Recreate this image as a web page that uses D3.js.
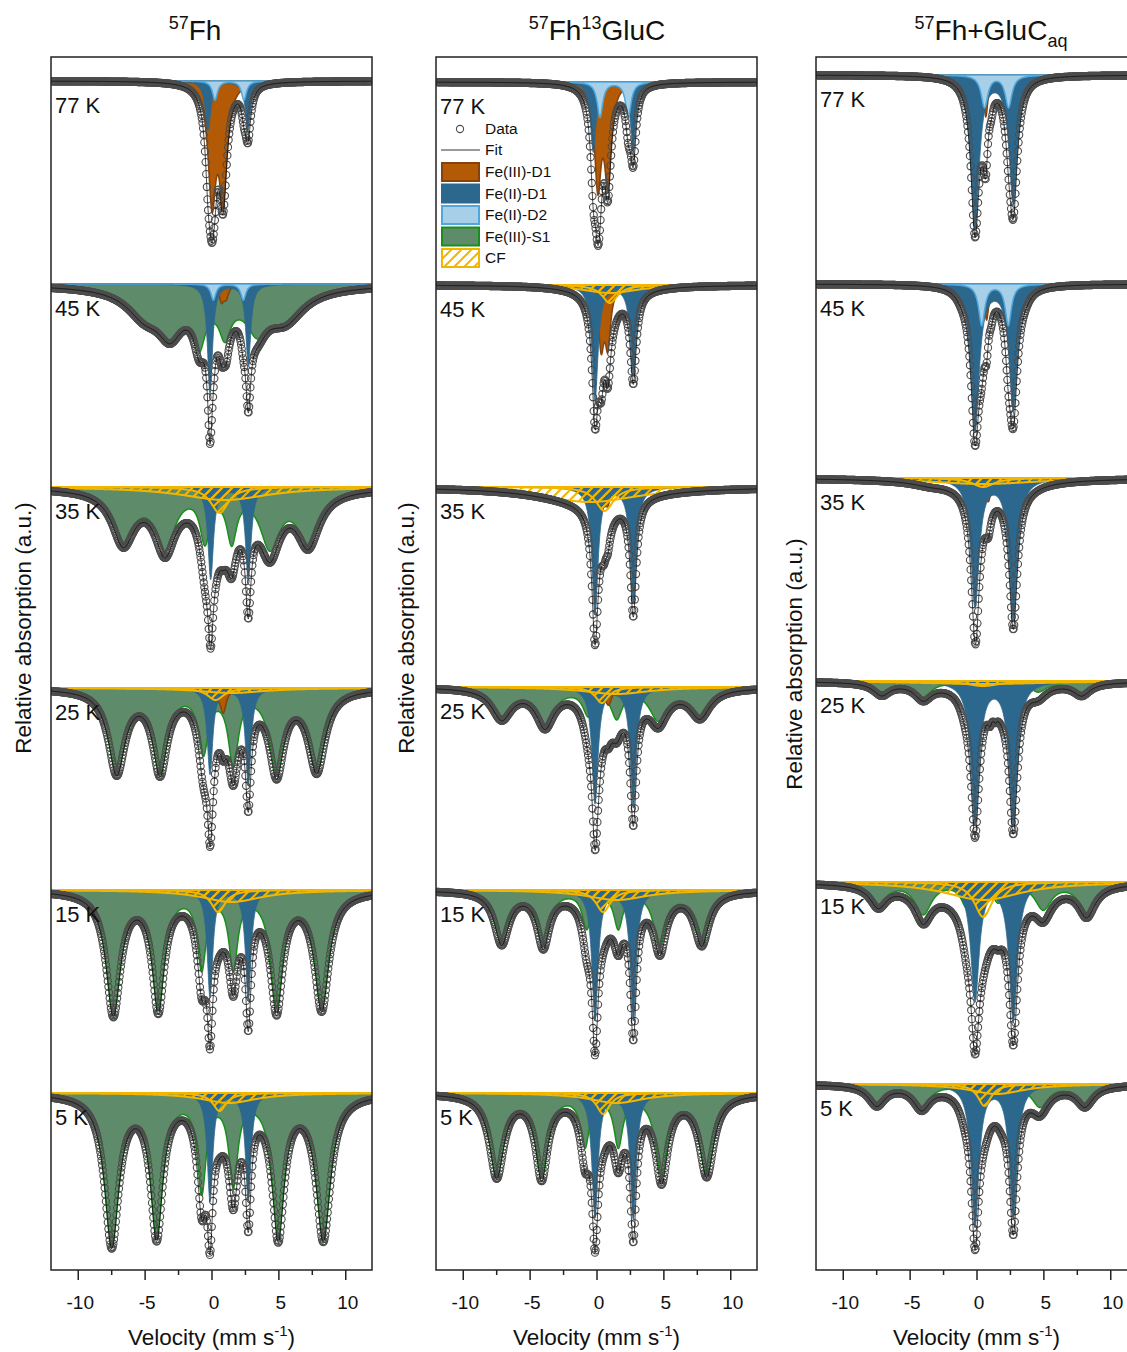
<!DOCTYPE html>
<html>
<head>
<meta charset="utf-8">
<script src="https://cdn.jsdelivr.net/npm/d3@7"></script>
<style>
  body { margin: 0; background: #fff; }
  text { font-family: "Liberation Sans", Arial, sans-serif; fill: #111; }
</style>
</head>
<body>
<div class="canvas"></div>
<script>
// Spectra, top to bottom
const temps = ['77 K', '45 K', '35 K', '25 K', '15 K', '5 K'];
const legendNames = ['Fe(III)-D1', 'Fe(II)-D1', 'Fe(II)-D2', 'Fe(III)-S1', 'CF'];
const xTicks = [-10, -5, 0, 5, 10];
const xMinorTicks = [-7.5, -2.5, 2.5, 7.5];

// Each fitted line: [centre velocity (mm/s), depth (a.u.), FWHM (mm/s)], one entry per temperature
// 57Fh
const fhFe3D1 = [
    [[0.04, 11.5, 0.7], [0.87, 11.0, 0.7]],
    [[0.75, 1.6, 0.45], [1.1, 1.2, 0.45]],
    [[0.3, 0.9, 0.6], [0.9, 0.9, 0.6]],
    [[0.0, 2.4, 0.55], [0.88, 2.3, 0.55]],
    null, null];
const fhFe2D1 = [
    [[-0.26, 4.9, 0.5], [2.73, 4.9, 0.5]],
    [[-0.11, 11.0, 0.45], [2.75, 8.0, 0.45]],
    [[-0.06, 9.2, 0.5], [2.75, 9.3, 0.5]],
    [[-0.11, 8.6, 0.5], [2.75, 9.7, 0.5]],
    [[-0.11, 10.7, 0.5], [2.75, 11.0, 0.5]],
    [[-0.11, 10.8, 0.5], [2.75, 10.8, 0.5]]];
const fhFe2D2 = [
    [[0.26, 1.9, 0.45], [2.43, 1.9, 0.45]],
    [[0.14, 1.6, 0.45], [2.38, 1.6, 0.45]],
    null, null, null, null];
const fhFe3S1 = [
    null,
    [[-5.0, 2.4, 3.2], [-3.1, 3.6, 2.2], [-0.9, 4.0, 1.0], [1.0, 3.2, 1.0], [3.4, 3.1, 1.8], [5.5, 3.0, 3.4], [0.0, 1.3, 9]],
    [[-6.6, 5.2, 2.0], [-3.48, 5.6, 1.8], [-0.49, 4.8, 0.9], [1.51, 4.8, 0.9], [4.37, 5.6, 1.8], [7.24, 5.2, 2.0]],
    [[-7.09, 8.3, 1.5], [-3.85, 8.0, 1.3], [-0.61, 6.0, 0.9], [1.63, 7.2, 0.9], [4.87, 8.0, 1.3], [7.87, 8.0, 1.5]],
    [[-7.34, 12.2, 1.3], [-3.98, 11.4, 1.1], [-0.73, 7.4, 0.8], [1.63, 7.4, 0.8], [4.87, 11.2, 1.1], [8.24, 11.6, 1.3]],
    [[-7.46, 15.0, 1.3], [-4.10, 13.8, 1.1], [-0.73, 9.3, 0.8], [1.63, 8.6, 0.8], [4.99, 13.7, 1.1], [8.36, 14.3, 1.3]]];
const fhCF = [
    null, null,
    [[0.6, 2.6, 1.6], [1.0, 1.3, 8]],
    [[0.3, 1.2, 1.5], [1.5, 0.5, 6]],
    [[0.5, 2.2, 1.3], [1.5, 1.2, 5.5]],
    [[0.6, 1.8, 1.2], [1.3, 1.0, 5]]];

// 57Fh13GluC
const gcFe3D1 = [
    [[0.1, 10.0, 0.6], [0.85, 9.5, 0.6]],
    [[0.35, 5.8, 0.5], [0.85, 5.6, 0.5]],
    [[0.55, 1.5, 0.4], [0.85, 1.5, 0.4]],
    [[0.1, 1.8, 0.6], [0.9, 1.6, 0.6]],
    null, null];
const gcFe2D1 = [
    [[-0.24, 7.0, 0.5], [2.75, 7.0, 0.5]],
    [[-0.11, 11.5, 0.55], [2.75, 8.9, 0.55]],
    [[-0.11, 12.7, 0.55], [2.75, 11.6, 0.55]],
    [[-0.11, 11.6, 0.55], [2.75, 12.0, 0.55]],
    [[-0.11, 13.0, 0.55], [2.75, 13.0, 0.55]],
    [[-0.11, 12.4, 0.55], [2.75, 12.6, 0.55]]];
const gcFe2D2 = [
    [[0.26, 3.5, 0.5], [2.38, 3.5, 0.5]],
    null, null, null, null, null];
const gcFe3S1 = [
    null, null, null,
    [[-7.09, 3.0, 1.8], [-3.85, 3.6, 1.6], [-0.61, 2.5, 1.0], [1.51, 2.8, 1.0], [4.62, 3.1, 1.6], [7.74, 2.8, 1.8]],
    [[-7.09, 5.2, 1.3], [-3.98, 5.3, 1.1], [-0.73, 3.6, 0.8], [1.63, 3.6, 0.8], [4.74, 5.5, 1.1], [7.87, 5.2, 1.3]],
    [[-7.46, 8.2, 1.3], [-4.10, 8.1, 1.1], [-0.86, 5.0, 0.8], [1.63, 5.0, 0.8], [4.87, 8.1, 1.1], [8.24, 8.0, 1.3]]];
const gcCF = [
    null,
    [[1.0, 1.8, 1.4], [1.0, 0.8, 5]],
    [[0.6, 2.4, 1.6], [-0.5, 1.5, 9]],
    [[0.4, 1.6, 1.2], [1.5, 0.7, 6]],
    [[0.5, 2.2, 1.3], [1.5, 1.0, 5.5]],
    [[0.5, 2.1, 1.2], [1.5, 1.0, 5]]];

// 57Fh+GluCaq
const aqFe3D1 = [
    [[0.7, 4.0, 0.35], [1.1, 1.0, 0.35]],
    [[0.75, 3.4, 0.35], [1.1, 1.0, 0.35]],
    [[0.0, 2.4, 0.5], [0.88, 2.2, 0.5]],
    [[1.0, 1.2, 0.4], [1.4, 0.8, 0.4]],
    null, null];
const aqFe2D1 = [
    [[-0.11, 15.3, 0.75], [2.75, 12.7, 0.75]],
    [[-0.11, 14.7, 0.75], [2.75, 12.5, 0.75]],
    [[-0.11, 12.8, 0.75], [2.75, 14.0, 0.75]],
    [[-0.11, 14.2, 0.75], [2.75, 14.2, 0.75]],
    [[-0.11, 11.8, 0.75], [2.75, 13.8, 0.75]],
    [[-0.11, 14.2, 0.7], [2.75, 13.3, 0.7]]];
const aqFe2D2 = [
    [[0.6, 3.2, 0.6], [2.4, 3.2, 0.6]],
    [[0.39, 4.1, 0.55], [2.38, 4.1, 0.55]],
    null, null, null, null];
const aqFe3S1 = [
    null,
    [[-1.1, 0.5, 1.0], [3.6, 0.5, 1.0]],
    [[-3.5, 0.3, 3], [3.7, 0.3, 3]],
    [[-7.09, 1.2, 1.5], [-3.98, 1.5, 1.5], [-0.86, 1.0, 1.0], [1.88, 1.0, 1.0], [4.62, 1.0, 1.5], [7.87, 1.2, 1.5]],
    [[-7.34, 2.1, 1.5], [-3.98, 3.1, 1.5], [-0.73, 2.3, 1.0], [1.63, 1.8, 1.0], [4.99, 2.6, 1.5], [8.24, 3.0, 1.5]],
    [[-7.46, 2.0, 1.5], [-4.10, 2.2, 1.5], [-0.86, 1.2, 1.0], [1.88, 1.2, 1.0], [4.75, 2.2, 1.5], [8.11, 2.0, 1.5]]];
const aqCF = [
    null, null,
    [[0.5, 0.9, 2], [0.5, 0.6, 10]],
    [[0.5, 0.5, 3], [0.5, 0.3, 12]],
    [[0.5, 3.5, 1.6], [0.5, 1.8, 7]],
    [[0.6, 2.2, 1.2], [1.5, 1.0, 5]]];

const panels = [
    {title: [['57', 'sup'], ['Fh', '']],
     comps: {fe3s1: fhFe3S1, fe3d1: fhFe3D1, fe2d1: fhFe2D1, fe2d2: fhFe2D2, cf: fhCF}},
    {title: [['57', 'sup'], ['Fh', ''], ['13', 'sup'], ['GluC', '']],
     comps: {fe3s1: gcFe3S1, fe3d1: gcFe3D1, fe2d1: gcFe2D1, fe2d2: gcFe2D2, cf: gcCF}},
    {title: [['57', 'sup'], ['Fh+GluC', ''], ['aq', 'sub']],
     comps: {fe3s1: aqFe3S1, fe3d1: aqFe3D1, fe2d1: aqFe2D1, fe2d2: aqFe2D2, cf: aqCF}}
];

// Layout
const outerWidth = 1127;
const outerHeight = 1352;
const panelLeft = [51, 436, 816];
const panelWidth = 321;
const plotTop = 57;
const plotBottom = 1270;
// vertical offset of each spectrum baseline (a.u.)
const offsets = [
    [2.4, 22.7, 43.0, 63.1, 83.3, 103.6],
    [2.5, 22.8, 43.0, 63.0, 83.3, 103.6],
    [1.8, 22.7, 42.1, 62.4, 82.5, 102.7]];
const titleX = [195, 597, 991];
const yLabelX = [23, 406, 794];
const yLabelY = [628, 628, 664];

const colors = {
    fe3d1: {fill: '#b25a05', stroke: '#86420a'},
    fe2d1: {fill: '#2c688d', stroke: '#2c688d'},
    fe2d2: {fill: '#a7d0e8', stroke: '#4ea8de'},
    fe3s1: {fill: '#5e8b69', stroke: '#17901a'},
    cf: {fill: 'url(#hatch)', stroke: '#f2b600'}
};
const drawOrder = ['fe3s1', 'fe3d1', 'fe2d1', 'fe2d2'];
const legendKeys = ['fe3d1', 'fe2d1', 'fe2d2', 'fe3s1', 'cf'];

// Lorentzian line shape
const lor = (v, [c, d, w]) => d / (1 + Math.pow((v - c) / (w / 2), 2));
const sumLines = (v, lines) => lines ? d3.sum(lines, l => lor(v, l)) : 0;

const vGrid = d3.range(-12, 12.0001, 0.02);
const channels = d3.range(512).map(i => -11.9 + i * 23.8 / 511);

const svg = d3.select('.canvas')
    .append('svg')
    .attr('width', outerWidth)
    .attr('height', outerHeight);

const defs = svg.append('defs');
defs.append('pattern')
    .attr('id', 'hatch')
    .attr('patternUnits', 'userSpaceOnUse')
    .attr('width', 10)
    .attr('height', 10)
    .append('path')
    .attr('d', 'M-2,2 L2,-2 M0,10 L10,0 M8,12 L12,8')
    .attr('stroke', colors.cf.stroke)
    .attr('stroke-width', 2);

const y = d3.scaleLinear().domain([0, 121.3]).range([plotTop, plotBottom]);

panels.forEach((panel, p) => {
    const left = panelLeft[p];
    const x = d3.scaleLinear().domain([-12, 12]).range([left, left + panelWidth]);
    const g = svg.append('g');

    defs.append('clipPath').attr('id', `clip${p}`)
        .append('rect')
        .attr('x', left).attr('y', plotTop)
        .attr('width', panelWidth).attr('height', plotBottom - plotTop);

    const plot = g.append('g').attr('clip-path', `url(#clip${p})`);

    temps.forEach((t, i) => {
        const o = offsets[p][i];
        const area = f => d3.area()
            .x(v => x(v))
            .y0(y(o))
            .y1(v => y(o + f(v)));

        // components, each hanging from the baseline
        drawOrder.forEach(k => {
            const lines = panel.comps[k][i];
            if (!lines) return;
            plot.append('path')
                .datum(vGrid)
                .attr('d', area(v => sumLines(v, lines)))
                .attr('fill', colors[k].fill)
                .attr('stroke', colors[k].stroke)
                .attr('stroke-width', k === 'fe2d1' ? 0.8 : 1.5);
        });

        const cf = panel.comps.cf[i];
        if (cf) {
            cf.forEach(l => {
                plot.append('path')
                    .datum(vGrid)
                    .attr('d', area(v => lor(v, l)))
                    .attr('fill', colors.cf.fill)
                    .attr('stroke', colors.cf.stroke)
                    .attr('stroke-width', 2);
            });
        }

        const allLines = Object.keys(panel.comps)
            .flatMap(k => panel.comps[k][i] || []);
        const total = v => sumLines(v, allLines);

        // data points
        plot.append('g')
            .selectAll('circle')
            .data(channels)
            .join('circle')
            .attr('cx', v => x(v))
            .attr('cy', v => y(o + total(v)))
            .attr('r', 3.6)
            .attr('fill', 'none')
            .attr('stroke', '#4d4d4d')
            .attr('stroke-width', 1.1);

        // fit
        plot.append('path')
            .datum(vGrid)
            .attr('d', d3.line().x(v => x(v)).y(v => y(o + total(v))))
            .attr('fill', 'none')
            .attr('stroke', '#000')
            .attr('stroke-width', 0.7);

        g.append('text')
            .attr('x', left + 4)
            .attr('y', y(o) + 32)
            .attr('font-size', 22)
            .text(t);
    });

    // frame
    g.append('rect')
        .attr('x', left).attr('y', plotTop)
        .attr('width', panelWidth).attr('height', plotBottom - plotTop)
        .attr('fill', 'none')
        .attr('stroke', '#222')
        .attr('stroke-width', 1.5);

    // x axis
    const xAxis = d3.axisBottom(x)
        .tickValues(xTicks)
        .tickSize(10)
        .tickPadding(16)
        .tickFormat(d => d);
    const xMinor = d3.axisBottom(x)
        .tickValues(xMinorTicks)
        .tickSize(5)
        .tickFormat('');

    g.append('g')
        .attr('transform', `translate(0, ${plotBottom})`)
        .call(xAxis)
        .call(a => a.select('.domain').remove())
        .call(a => a.selectAll('line').attr('stroke', '#222').attr('stroke-width', 1.5))
        .call(a => a.selectAll('text').attr('font-size', 19).attr('dx', 2));
    g.append('g')
        .attr('transform', `translate(0, ${plotBottom})`)
        .call(xMinor)
        .call(a => a.select('.domain').remove())
        .call(a => a.selectAll('line').attr('stroke', '#222').attr('stroke-width', 1.5));

    // axis titles
    const xt = g.append('text')
        .attr('x', left + panelWidth / 2)
        .attr('y', 1345)
        .attr('text-anchor', 'middle')
        .attr('font-size', 22.5);
    xt.append('tspan').text('Velocity (mm s');
    xt.append('tspan').attr('dy', -9).attr('font-size', 15).text('-1');
    xt.append('tspan').attr('dy', 9).text(')');

    g.append('text')
        .attr('transform', `translate(${yLabelX[p] + 8}, ${yLabelY[p]}) rotate(-90)`)
        .attr('text-anchor', 'middle')
        .attr('font-size', 22.5)
        .text('Relative absorption (a.u.)');

    // panel title
    const tt = g.append('text')
        .attr('x', titleX[p])
        .attr('y', 40)
        .attr('text-anchor', 'middle')
        .attr('font-size', 28);
    let shift = 0;
    panel.title.forEach(([s, kind]) => {
        const want = kind === 'sup' ? -11 : kind === 'sub' ? 7 : 0;
        tt.append('tspan')
            .attr('dy', want - shift)
            .attr('font-size', kind ? 18 : 28)
            .text(s);
        shift = want;
    });
});

// legend in the middle panel, 77 K spectrum
const legend = svg.append('g').attr('transform', 'translate(441, 0)');
legend.append('circle')
    .attr('cx', 19).attr('cy', 129).attr('r', 3.6)
    .attr('fill', 'none').attr('stroke', '#4d4d4d').attr('stroke-width', 1.1);
legend.append('text').attr('x', 44).attr('y', 134).attr('font-size', 15.5).text('Data');
legend.append('line')
    .attr('x1', 0).attr('x2', 39).attr('y1', 150).attr('y2', 150)
    .attr('stroke', '#000').attr('stroke-width', 0.8);
legend.append('text').attr('x', 44).attr('y', 155).attr('font-size', 15.5).text('Fit');

legendKeys.forEach((k, i) => {
    const cy = 172 + i * 21.5;
    legend.append('rect')
        .attr('x', 1).attr('y', cy - 9)
        .attr('width', 37).attr('height', 18)
        .attr('fill', colors[k].fill)
        .attr('stroke', colors[k].stroke)
        .attr('stroke-width', 2);
    legend.append('text')
        .attr('x', 44).attr('y', cy + 5)
        .attr('font-size', 15.5)
        .text(legendNames[i]);
});
</script>
</body>
</html>
